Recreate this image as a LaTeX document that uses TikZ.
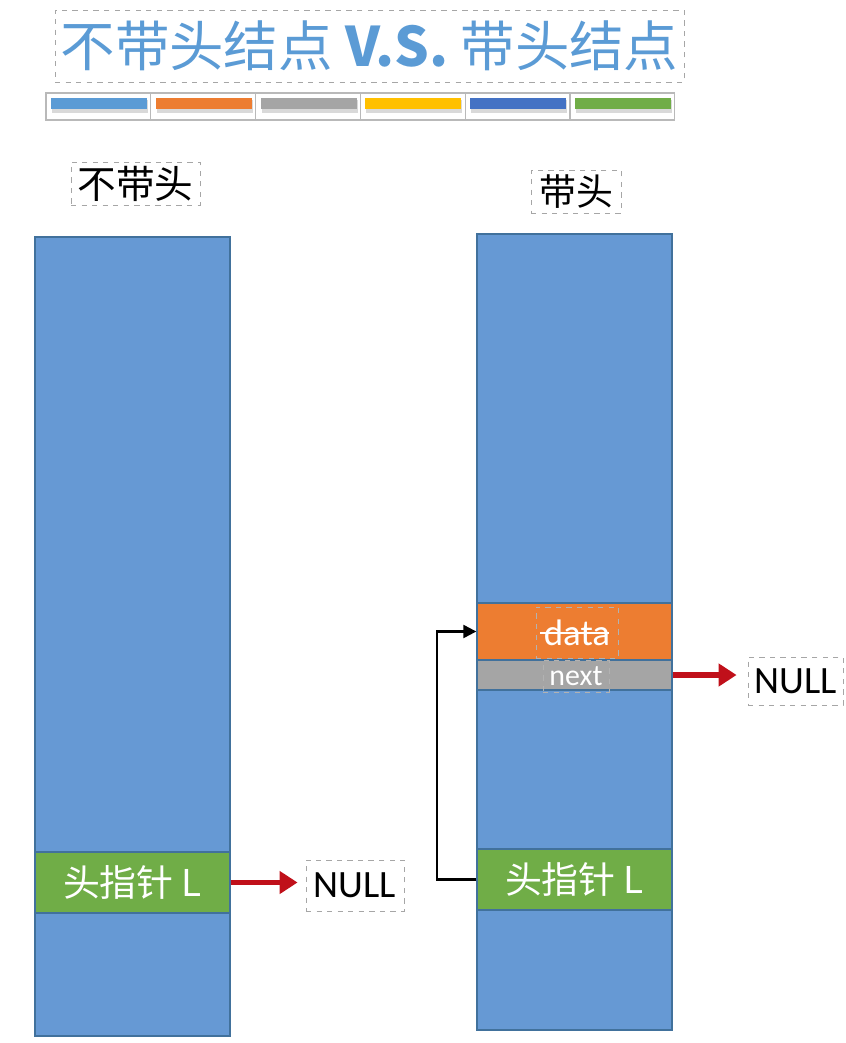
\documentclass[tikz,border=0pt]{standalone}
\usepackage{fontspec}
\setmainfont{Carlito}
\newfontfamily\cjk{Noto Sans CJK SC}
\usetikzlibrary{arrows.meta}

\definecolor{titleblue}{HTML}{5B9BD5}
\definecolor{colblue}{HTML}{6699D4}
\definecolor{colline}{HTML}{41719C}
\definecolor{barblue}{HTML}{5B9BD5}
\definecolor{barorange}{HTML}{ED7D31}
\definecolor{bargray}{HTML}{A5A5A5}
\definecolor{baryellow}{HTML}{FFC000}
\definecolor{bardblue}{HTML}{4472C4}
\definecolor{bargreen}{HTML}{70AD47}
\definecolor{nullred}{HTML}{C0101A}

\tikzset{
  textbox/.style={draw=gray!70, dashed, line width=0.5pt, inner sep=0pt},
  cell/.style={draw=colline, line width=0.8pt, inner sep=0pt, minimum width=3.9cm},
  redarrow/.style={nullred, line width=3.2pt, -{Triangle[length=0.36cm,width=0.44cm]}},
}

\begin{document}
\begin{tikzpicture}[x=0.02cm,y=-0.02cm]
\useasboundingbox (0,0) rectangle (845,1043);

% title
\node[textbox, minimum width=12.58cm, minimum height=1.44cm, text=titleblue,
      font=\fontsize{31}{31}\selectfont\cjk] (title) at (369.5,46)
  {不带头结点 {\bfseries V.S.} 带头结点};

% colour bar
\foreach \c [count=\i from 0] in {barblue,barorange,bargray,baryellow,bardblue,bargreen} {
  \draw[gray!55, line width=0.6pt] (46+\i*104.8,93) rectangle ++(104.8,27);
  \fill[black!15] (52+\i*104.8,100) rectangle ++(96,13);
  \fill[\c] (51+\i*104.8,98) rectangle ++(96,11);
}

% labels
\node[textbox, minimum width=2.58cm, minimum height=0.86cm,
      font=\fontsize{22}{22}\selectfont\cjk] (lblnohead) at (135.5,183.5) {不带头};
\node[textbox, minimum width=1.8cm, minimum height=0.86cm,
      font=\fontsize{21}{21}\selectfont\cjk] (lblhead) at (576,191.5) {带头};

% left column
\draw[colline, line width=0.8pt, fill=colblue] (35,237) rectangle (230,1036);
\node[cell, fill=bargreen, minimum height=1.22cm, text=white,
      font=\fontsize{21}{21}\selectfont\cjk] (headL) at (132.5,882.5) {头指针 L};

\node[textbox, minimum width=1.96cm, minimum height=1.02cm,
      font=\fontsize{22}{22}\selectfont] (nullL) at (355,885.5) {NULL};

\draw[redarrow, shorten >=0.16cm] (headL.east) -- (headL.east -| nullL.west);

% right column
\draw[colline, line width=0.8pt, fill=colblue] (477,234) rectangle (672,1030);
\node[cell, fill=barorange, minimum height=1.14cm] (datacell) at (574.5,631.5) {};
\node[cell, fill=bargray, minimum height=0.6cm] (nextcell) at (574.5,675) {};
\node[cell, fill=bargreen, minimum height=1.22cm, text=white,
      font=\fontsize{21}{21}\selectfont\cjk] (headR) at (574.5,879.5) {头指针 L};

\node[textbox, draw=gray!60, minimum width=1.64cm, minimum height=1.02cm, text=white,
      font=\fontsize{21}{21}\selectfont] (data) at (577,632.5) {data};
\draw[white, line width=1.2pt] (540,633) -- (609,633);
\node[textbox, draw=gray!60, minimum width=1.32cm, minimum height=0.64cm, text=white,
      font=\fontsize{17}{17}\selectfont] (next) at (576,676) {next};

\node[textbox, minimum width=1.9cm, minimum height=0.96cm,
      font=\fontsize{22}{22}\selectfont] (nullR) at (795.5,681) {NULL};

\draw[redarrow, shorten >=0.22cm] (nextcell.east) -- (nextcell.east -| nullR.west);

% head pointer back to first node
\draw[black, line width=1.3pt, -{Triangle[length=0.26cm,width=0.26cm]}]
  (headR.west) -- ++(-39,0) |- (datacell.west);

\end{tikzpicture}
\end{document}
